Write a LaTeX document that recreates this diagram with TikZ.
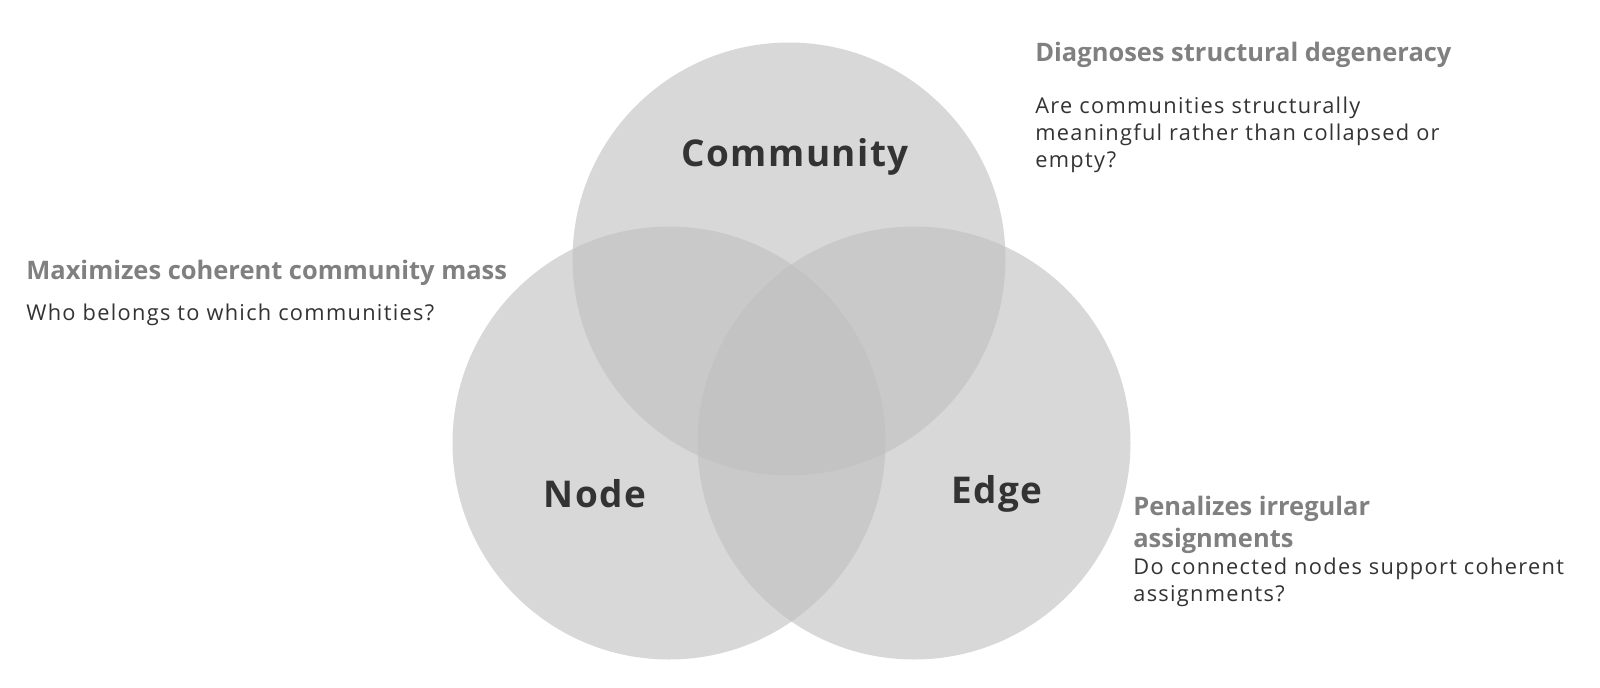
\documentclass[tikz,border=0pt]{standalone}
\usepackage{fontspec}
\setmainfont{Open Sans}
\newfontfamily\bodyfont[LetterSpace=6]{Open Sans}
\newfontfamily\lblfont[LetterSpace=4]{Open Sans}
\begin{document}
\begin{tikzpicture}[x=0.02cm,y=-0.02cm,
  circ/.style={circle,minimum size=433*0.02cm,inner sep=0pt,fill={rgb,255:red,192;green,192;blue,192},fill opacity=0.62,draw=none},
  lbl/.style={font=\lblfont\fontsize{21}{25}\selectfont\bfseries,text={rgb,255:red,51;green,51;blue,51}},
  head/.style={anchor=west,align=left,font=\fontsize{14.5}{18}\selectfont\bfseries,text={rgb,255:red,128;green,128;blue,128},inner sep=0pt},
  body/.style={anchor=west,align=left,font=\bodyfont\fontsize{12.4}{15.4}\selectfont,text={rgb,255:red,51;green,51;blue,51},inner sep=0pt}]
\useasboundingbox (0,0) rectangle (1600,687);
\node[circ] (cc) at (789,259) {};
\node[circ] (nc) at (669,443) {};
\node[circ] (ec) at (914,443) {};
\node[lbl] (cl) at (795,157) {Community};
\node[lbl] (nl) at (595,494) {Node};
\node[lbl] (el) at (997,494) {Edge};
\node[head] (h1) at (1035,55) {Diagnoses structural degeneracy};
\node[body] (b1) at (1035,135) {Are communities structurally\\meaningful rather than collapsed or\\empty?};
\node[head] (h2) at (26,273) {Maximizes coherent community mass};
\node[body] (b2) at (26,315) {Who belongs to which communities?};
\node[head] (h3) at (1133,525) {Penalizes irregular\\assignments};
\node[body] (b3) at (1133,582) {Do connected nodes support coherent\\assignments?};
\end{tikzpicture}
\end{document}
